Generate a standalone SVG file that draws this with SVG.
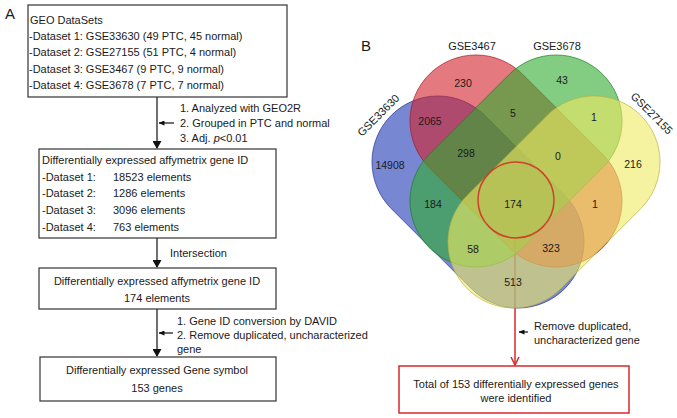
<svg xmlns="http://www.w3.org/2000/svg" width="677" height="418" viewBox="0 0 677 418">
<defs>
<style>
text{font-family:"Liberation Sans",Arial,sans-serif;font-size:11px;fill:#1a1a1a}
.box{fill:#fff;stroke:#333;stroke-width:1.2}
.rbox{fill:#fff;stroke:#d8282e;stroke-width:1.5}
.ln{stroke:#111;stroke-width:1.2;fill:none}
.big{font-size:15px}
.n{text-anchor:middle;font-size:10.5px}
.c{text-anchor:middle}
.el{stroke-width:0.9;fill-opacity:0.6;stroke-opacity:0.7}
</style>
<rect id="st" x="-122.6" y="-66" width="245.2" height="132" rx="66" ry="66"/>
<marker id="ah" markerWidth="8" markerHeight="9" refX="7" refY="4.5" orient="auto" markerUnits="userSpaceOnUse">
<path d="M0,0 L8,4.5 L0,9 Z" fill="#111"/>
</marker>
<marker id="sa" markerWidth="6" markerHeight="5" refX="5.5" refY="2.5" orient="auto" markerUnits="userSpaceOnUse">
<path d="M0,0 L6,2.5 L0,5 Z" fill="#111"/>
</marker>
</defs>
<rect width="677" height="418" fill="#fff"/>

<text x="5" y="19" class="big">A</text>
<text x="361" y="51" class="big">B</text>

<g id="connectors">
<line class="ln" x1="157" y1="97" x2="157" y2="148" marker-end="url(#ah)"/>
<line class="ln" x1="174" y1="123" x2="159" y2="123" marker-end="url(#sa)"/>
<line class="ln" x1="157" y1="238" x2="157" y2="267" marker-end="url(#ah)"/>
<line class="ln" x1="157" y1="309" x2="157" y2="356" marker-end="url(#ah)"/>
<line class="ln" x1="173" y1="333" x2="159" y2="333" marker-end="url(#sa)"/>
<line x1="515" y1="238" x2="515" y2="365" stroke="#d8282e" stroke-width="1.5"/>
<path d="M511,357 L515,365 L519,357" fill="none" stroke="#d8282e" stroke-width="1.5"/>
<line class="ln" x1="528" y1="332" x2="519" y2="332" marker-end="url(#sa)"/>
</g>

<g id="labels">
<text x="180" y="112">1. Analyzed with GEO2R</text>
<text x="180" y="127">2. Grouped in PTC and normal</text>
<text x="180" y="142">3. Adj. <tspan font-style="italic">p</tspan>&lt;0.01</text>
<text x="170" y="257">Intersection</text>
<text x="177" y="325">1. Gene ID conversion by DAVID</text>
<text x="177" y="339">2. Remove duplicated, uncharacterized</text>
<text x="177" y="353">gene</text>
<text x="534" y="330">Remove duplicated,</text>
<text x="534" y="344">uncharacterized gene</text>
</g>

<g id="geo">
<rect class="box" x="28" y="5" width="259" height="92"/>
<text x="30" y="24">GEO DataSets</text>
<text x="29" y="40">-Dataset 1: GSE33630 (49 PTC, 45 normal)</text>
<text x="29" y="56">-Dataset 2: GSE27155 (51 PTC, 4 normal)</text>
<text x="29" y="73">-Dataset 3: GSE3467 (9 PTC, 9 normal)</text>
<text x="29" y="89">-Dataset 4: GSE3678 (7 PTC, 7 normal)</text>
</g>

<g id="deg">
<rect class="box" x="39" y="149" width="237" height="89"/>
<text x="42" y="164">Differentially expressed affymetrix gene ID</text>
<text x="42" y="181">-Dataset 1:</text><text x="113" y="181">18523  elements</text>
<text x="42" y="197">-Dataset 2:</text><text x="113" y="197">1286 elements</text>
<text x="42" y="214">-Dataset 3:</text><text x="113" y="214">3096 elements</text>
<text x="42" y="231">-Dataset 4:</text><text x="113" y="231">763 elements</text>
</g>

<g id="inter">
<rect class="box" x="39" y="268" width="237" height="41"/>
<text x="157" y="285" class="c">Differentially expressed affymetrix gene ID</text>
<text x="157" y="302" class="c">174 elements</text>
</g>

<g id="symbol">
<rect class="box" x="40" y="357" width="236" height="44"/>
<text x="157" y="374" class="c">Differentially expressed Gene symbol</text>
<text x="157" y="392" class="c">153 genes</text>
</g>

<g id="venn">
<use href="#st" class="el" transform="translate(478,202) rotate(45)" fill="#1e37b4" stroke="#1e2f90"/>
<use href="#st" class="el" transform="translate(516,161) rotate(45)" fill="#d2212b" stroke="#a01820"/>
<use href="#st" class="el" transform="translate(516,161) rotate(-45)" fill="#2fac2f" stroke="#1f7a1f"/>
<use href="#st" class="el" transform="translate(554,202) rotate(-45)" fill="#eee961" stroke="#b8b040"/>
<circle cx="516" cy="200" r="38" fill="none" stroke="#d0402a" stroke-width="1.5"/>
<text class="c" x="472" y="50">GSE3467</text>
<text class="c" x="557" y="50">GSE3678</text>
<text class="c" transform="translate(381,118) rotate(-45)">GSE33630</text>
<text class="c" transform="translate(649,116) rotate(45)">GSE27155</text>
<text class="n" x="463" y="87">230</text>
<text class="n" x="562" y="84">43</text>
<text class="n" x="430" y="125">2065</text>
<text class="n" x="513" y="117">5</text>
<text class="n" x="594" y="121">1</text>
<text class="n" x="466" y="157">298</text>
<text class="n" x="558" y="160">0</text>
<text class="n" x="390" y="169">14908</text>
<text class="n" x="633" y="168">216</text>
<text class="n" x="433" y="208">184</text>
<text class="n" x="513" y="208">174</text>
<text class="n" x="595" y="208">1</text>
<text class="n" x="473" y="253">58</text>
<text class="n" x="551" y="252">323</text>
<text class="n" x="513" y="286">513</text>
</g>

<g id="total">
<rect class="rbox" x="399" y="366" width="230" height="47"/>
<text class="c" x="516" y="388">Total of 153 differentially expressed genes</text>
<text class="c" x="516" y="402">were identified</text>
</g>
</svg>
